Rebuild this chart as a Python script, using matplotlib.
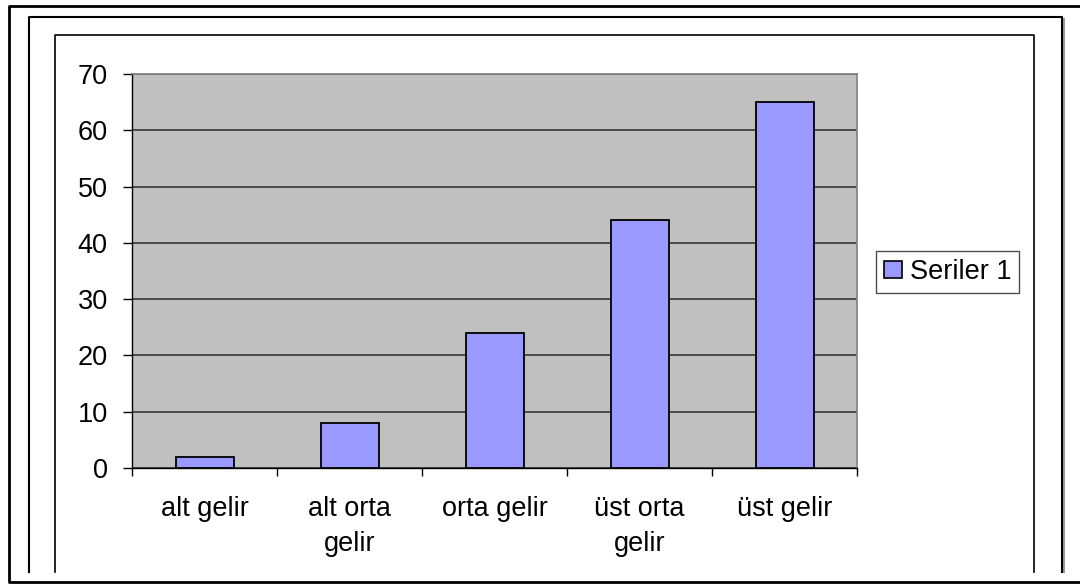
import matplotlib
matplotlib.use('Agg')
import matplotlib.pyplot as plt
from matplotlib.lines import Line2D
from matplotlib.patches import Patch

plt.rcParams['font.family'] = ['Liberation Sans', 'DejaVu Sans']

categories = ['alt gelir', 'alt orta\ngelir', 'orta gelir', 'üst orta\ngelir', 'üst gelir']
values = [2, 8, 24, 44, 65]
series_name = 'Seriler 1'
y_ticks = [0, 10, 20, 30, 40, 50, 60, 70]

W, H = 1080, 584
fig = plt.figure(figsize=(W / 100, H / 100), dpi=100)


def fx(x):
    return x / W


def fy(y):
    return 1 - y / H


# plot area in pixel coords of the reference
left, right, top, bottom = 132, 857, 74, 468
ax = fig.add_axes([fx(left), fy(bottom), fx(right) - fx(left), fy(top) - fy(bottom)])
ax.set_facecolor('#C0C0C0')

x = list(range(len(categories)))
ax.bar(x, values, width=0.4, color='#9999FF', edgecolor='black', linewidth=1.3, zorder=3)

ax.set_xlim(-0.5, len(categories) - 0.5)
ax.set_ylim(0, 70)
ax.set_yticks(y_ticks)
ax.set_yticklabels([str(t) for t in y_ticks], fontsize=19.5)
ax.yaxis.grid(True, color='#2a2a2a', linewidth=1.1)
ax.set_axisbelow(True)

ax.set_xticks(x)
ax.set_xticklabels(categories, fontsize=19.5, linespacing=1.45)
ax.tick_params(axis='x', which='major', length=0, pad=20)
ax.set_xticks([i - 0.5 for i in range(len(categories) + 1)], minor=True)
ax.tick_params(axis='x', which='minor', length=6, width=1, color='black', direction='out')
ax.tick_params(axis='y', length=6.5, width=1, color='black', pad=11)

for s in ['left', 'bottom']:
    ax.spines[s].set_color('black')
    ax.spines[s].set_linewidth(1)
for s in ['top', 'right']:
    ax.spines[s].set_color('#808080')
    ax.spines[s].set_linewidth(1.2)

handle = Patch(facecolor='#9999FF', edgecolor='black', linewidth=1.2)
leg = ax.legend([handle], [series_name], loc='center left',
                bbox_to_anchor=(fx(876), fy(272)), bbox_transform=fig.transFigure,
                fontsize=19.5, frameon=True, fancybox=False, handlelength=0.66,
                handleheight=0.6, handletextpad=0.28, borderpad=0.3,
                borderaxespad=0)
leg.get_frame().set_edgecolor('#222222')
leg.get_frame().set_linewidth(1.0)


def line(xs, ys, lw=1.5, color='black'):
    fig.add_artist(Line2D([fx(v) for v in xs], [fy(v) for v in ys],
                          color=color, linewidth=lw, solid_capstyle='projecting'))


# outer frame
line([1080, 9, 9, 1080], [6, 6, 582, 582], lw=2)
# middle frame (shadow on right)
line([1063.5, 1063.5], [19, 572], lw=1.5, color='#999999')
line([29, 29, 1062, 1062], [572, 17, 17, 572], lw=1.5)
# inner frame
line([55, 55, 1034, 1034], [572, 35, 35, 572], lw=1.2)

fig.savefig('out.png', dpi=100)
